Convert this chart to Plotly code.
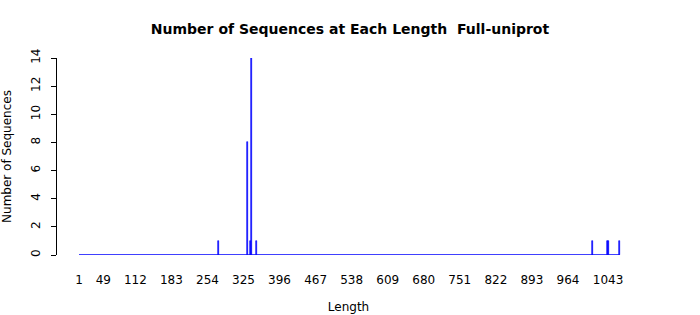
import plotly.graph_objects as go

# Data: sequence lengths with non-zero counts
lengths = [275, 333, 338, 340, 350, 1012, 1042, 1044, 1066]
counts = [1, 8, 1, 14, 1, 1, 1, 1, 1]
min_length = 1
max_length = 1066
x_tick_vals = [1, 49, 112, 183, 254, 325, 396, 467, 538, 609, 680, 751, 822, 893, 964, 1043]
x_tick_text = [str(v) for v in x_tick_vals]
y_tick_vals = [0, 2, 4, 6, 8, 10, 12, 14]

fig = go.Figure()
# baseline of zero-height bars across the full length range
fig.add_trace(go.Scatter(x=[min_length, max_length], y=[0, 0], mode="lines",
                         line=dict(color="blue", width=1.3), hoverinfo="skip", showlegend=False,
                         cliponaxis=False))
fig.add_trace(go.Bar(x=lengths, y=counts, width=1.6,
                     marker=dict(color="blue", line=dict(color="blue", width=0.6)),
                     showlegend=False))

fig.update_layout(
    width=700, height=315,
    margin=dict(l=57, r=60, t=58, b=60, autoexpand=False),
    plot_bgcolor="white", paper_bgcolor="white",
    font=dict(family="DejaVu Sans", size=12, color="black"),
    title=dict(text="<b>Number of Sequences at Each Length  Full-uniprot</b>",
               x=0.5, xanchor="center", y=1 - 29 / 315, yanchor="middle",
               font=dict(size=14), automargin=False),
    bargap=0,
)
fig.update_xaxes(range=[-42.3, 1105.9], tickvals=x_tick_vals, ticktext=x_tick_text,
                 showgrid=False, zeroline=False, showline=False, ticks="",
                 ticklabelstandoff=16, automargin=False,
                 title=dict(text="Length", standoff=16, font=dict(size=12)))
fig.update_yaxes(range=[0, 14], tickvals=y_tick_vals, showgrid=False, zeroline=False,
                 showline=True, linecolor="black", linewidth=1,
                 ticks="outside", ticklen=5, tickcolor="black", tickangle=-90,
                 ticklabelstandoff=6, automargin=False,
                 title=dict(text="Number of Sequences", standoff=16, font=dict(size=12)))

fig.write_html("out.html")
